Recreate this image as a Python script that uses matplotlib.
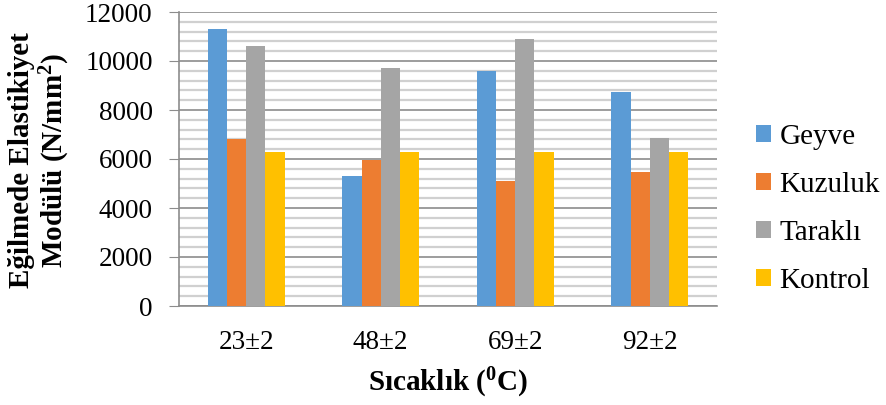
import matplotlib.pyplot as plt
import numpy as np

plt.rcParams['font.family'] = ['Liberation Serif', 'DejaVu Serif']
plt.rcParams['mathtext.fontset'] = 'custom'
plt.rcParams['mathtext.rm'] = 'Liberation Serif'
plt.rcParams['mathtext.bf'] = 'Liberation Serif:bold'

categories = ['23±2', '48±2', '69±2', '92±2']
geyve = [11300, 5300, 9600, 8750]
kuzuluk = [6800, 5950, 5100, 5450]
tarakli = [10600, 9700, 10900, 6850]
kontrol = [6300, 6300, 6300, 6300]

series = [('Geyve', geyve, '#5B9BD5'),
          ('Kuzuluk', kuzuluk, '#ED7D31'),
          ('Taraklı', tarakli, '#A5A5A5'),
          ('Kontrol', kontrol, '#FFC000')]

fig = plt.figure(figsize=(8.87, 4.05), dpi=100)
ax = fig.add_axes([179 / 887, 1 - 306 / 405, (717 - 179) / 887, (306 - 12) / 405])

x = np.arange(len(categories))
w = 0.143
for i, (name, vals, col) in enumerate(series):
    ax.bar(x + (i - 1.5) * w, vals, w, color=col, label=name, zorder=3)

ax.set_xlim(-0.5, 3.5)
ax.set_ylim(0, 12000)
ax.set_yticks(range(0, 12001, 2000))
ax.set_yticks(range(0, 12001, 400), minor=True)
ax.grid(axis='y', which='minor', color='#d0d0d0', linewidth=1.6, zorder=0)
ax.grid(axis='y', which='major', color='#8c8c8c', linewidth=1.2, zorder=1)
ax.set_xticks(x)
ax.set_xticklabels(categories)
ax.tick_params(axis='y', which='major', length=7, color='#8c8c8c', labelsize=19.5, pad=12)
ax.tick_params(axis='y', which='minor', length=0)
ax.tick_params(axis='x', length=0, labelsize=19.5, pad=17)
for s in ['top', 'right']:
    ax.spines[s].set_visible(False)
ax.spines['left'].set_color('#8c8c8c')
ax.spines['bottom'].set_color('#8c8c8c')
ax.spines['left'].set_linewidth(1.2)
ax.spines['bottom'].set_linewidth(1.2)

fig.text(40 / 887, 1 - 160 / 405, 'Eğilmede Elastikiyet\nModülü (N/mm$\\mathbf{^{2}}$)',
         fontsize=21, fontweight='bold', linespacing=1.08, rotation=90,
         ha='center', va='center', multialignment='center')
ax.set_xlabel('Sıcaklık ($\\mathbf{^{0}}$C)', fontsize=21, fontweight='bold', labelpad=8)

ax.legend(loc='center left', bbox_to_anchor=(1.072, 0.33), frameon=False, fontsize=21,
          handlelength=0.52, handleheight=0.52, labelspacing=0.75, handletextpad=0.3,
          borderpad=0, borderaxespad=0)

fig.savefig('out.png', dpi=100)
